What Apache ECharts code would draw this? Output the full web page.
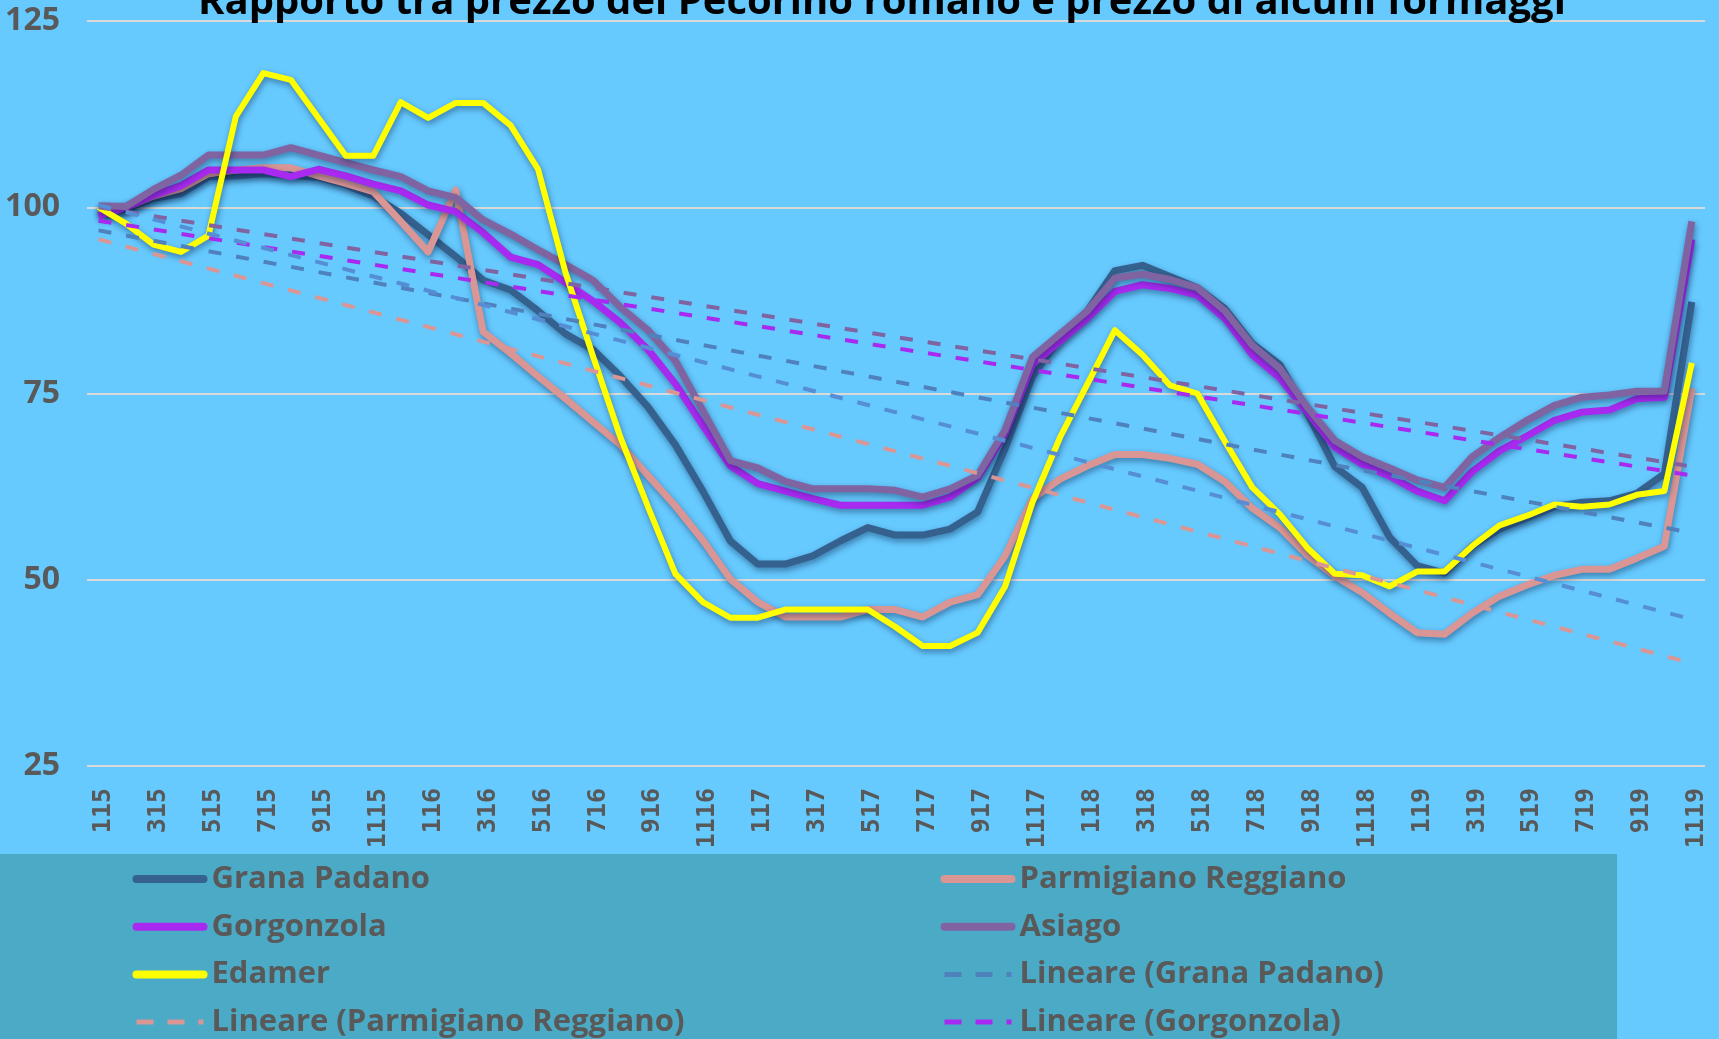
<!DOCTYPE html>
<html>
<head>
<meta charset="utf-8">
<title>Rapporto Pecorino romano / formaggi</title>
<script src="https://cdn.jsdelivr.net/npm/echarts@6/dist/echarts.min.js"></script>
<style>
  html, body { margin: 0; padding: 0; background: #66caff; }
  #chart { width: 1719px; height: 1039px; }
</style>
</head>
<body>
<div id="chart"></div>
<script>
// mesi (m + aa)
const months = ['115', '215', '315', '415', '515', '615', '715', '815', '915', '1015', '1115', '1215',
  '116', '216', '316', '416', '516', '616', '716', '816', '916', '1016', '1116', '1216',
  '117', '217', '317', '417', '517', '617', '717', '817', '917', '1017', '1117', '1217',
  '118', '218', '318', '418', '518', '618', '718', '818', '918', '1018', '1118', '1218',
  '119', '219', '319', '419', '519', '619', '719', '819', '919', '1019', '1119']

const grana = [99.5, 99.8, 101.2, 101.8, 104.1, 104.2, 104.5, 104.3, 104.0, 103.0, 101.5, 99.2,
  96.3, 93.4, 90.2, 88.9, 86.1, 83.0, 80.9, 77.3, 73.2, 68.1, 61.9, 55.2,
  52.1, 52.1, 53.2, 55.2, 57.0, 56.0, 56.0, 56.8, 59.1, 67.6, 77.3, 82.5,
  86.1, 91.5, 92.2, 90.7, 89.2, 86.4, 81.7, 78.9, 72.4, 65.2, 62.4, 55.7,
  51.9, 50.9, 54.5, 56.8, 58.3, 59.8, 60.4, 60.6, 61.6, 64.2, 87.3]

const parmigiano = [99.5, 100.0, 101.5, 102.5, 104.5, 105.0, 105.3, 105.3, 104.2, 103.2, 102.1, 98.1,
  94.0, 102.3, 83.3, 80.4, 77.3, 74.3, 71.2, 68.1, 64.0, 59.9, 55.3, 50.1,
  47.0, 45.0, 45.0, 45.0, 46.0, 46.0, 45.0, 47.0, 48.0, 53.2, 60.9, 63.5,
  65.3, 66.8, 66.8, 66.3, 65.5, 63.2, 59.6, 57.0, 53.3, 50.5, 48.3, 45.5,
  42.9, 42.7, 45.5, 47.8, 49.3, 50.6, 51.4, 51.4, 52.9, 54.5, 75.7]

const gorgonzola = [98.8, 100.0, 101.6, 102.9, 105.0, 105.0, 105.0, 104.1, 105.1, 104.2, 103.1, 102.2,
  100.3, 99.4, 96.6, 93.3, 92.3, 89.9, 87.4, 84.5, 80.9, 76.3, 70.7, 65.3,
  62.9, 61.9, 60.9, 60.0, 60.0, 60.0, 60.0, 61.1, 63.7, 69.6, 78.9, 82.0,
  85.1, 88.7, 89.6, 89.1, 88.2, 85.1, 80.2, 77.1, 72.5, 67.8, 65.5, 63.9,
  61.9, 60.6, 64.5, 67.3, 69.3, 71.4, 72.5, 72.8, 74.3, 74.5, 95.7]

const asiago = [100.2, 100.1, 102.4, 104.3, 107.0, 107.0, 107.0, 108.0, 107.0, 106.0, 105.0, 104.1,
  102.2, 101.3, 98.3, 96.4, 94.3, 92.3, 90.2, 86.6, 83.5, 79.4, 72.7, 66.0,
  65.0, 63.2, 62.2, 62.2, 62.2, 62.0, 61.1, 62.2, 64.0, 70.1, 79.9, 83.0,
  86.1, 90.5, 91.0, 90.3, 89.2, 86.1, 81.5, 78.4, 73.2, 68.7, 66.5, 65.0,
  63.4, 62.4, 66.5, 69.1, 71.4, 73.4, 74.5, 74.8, 75.3, 75.3, 98.1]

const edamer = [100.0, 97.8, 95.0, 94.0, 96.2, 112.2, 118.0, 117.1, 112.0, 106.9, 106.9, 114.1,
  112.0, 114.0, 114.0, 111.0, 105.1, 91.2, 80.0, 69.1, 59.8, 50.8, 47.0, 44.9,
  44.9, 46.0, 46.0, 46.0, 46.0, 43.7, 41.1, 41.1, 42.9, 49.1, 60.4, 69.1,
  76.3, 83.5, 80.2, 76.1, 75.0, 68.6, 62.4, 58.8, 54.3, 50.8, 50.6, 49.1,
  51.1, 51.1, 54.5, 57.3, 58.6, 60.1, 59.8, 60.1, 61.4, 61.9, 79.1]

// linee di tendenza: valore al primo e all'ultimo mese
const linGrana = [96.9, 56.3]
const linParmigiano = [95.7, 38.8]
const linGorgonzola = [98.2, 64.0]
const linAsiago = [100.0, 65.2]
const linEdamer = [100.3, 44.7]

const yTicks = [25, 50, 75, 100, 125]

const TXT = '#595959'
const FONT = "'Open Sans', 'Noto Sans', sans-serif"

function solid(name, data, color, width) {
  return {
    name: name,
    type: 'line',
    data: data.map((v, i) => [i, v]),
    symbol: 'none',
    z: 2,
    lineStyle: {
      color: color,
      width: width,
      join: 'round',
      shadowColor: 'rgba(0, 20, 60, 0.45)',
      shadowBlur: 6,
      shadowOffsetX: 1,
      shadowOffsetY: 3
    },
    itemStyle: { color: color }
  }
}

function trend(name, ends, color) {
  return {
    name: name,
    type: 'line',
    data: [[0, ends[0]], [months.length - 1, ends[1]]],
    symbol: 'none',
    z: 3,
    lineStyle: { color: color, width: 4, type: [13, 15] },
    itemStyle: { color: color }
  }
}

// niente pallino nella legenda, solo la linea
function legendItem(name, dashed) {
  return {
    name: name,
    itemStyle: { color: 'rgba(0,0,0,0)', borderColor: 'rgba(0,0,0,0)', borderWidth: 0 },
    lineStyle: dashed ? { width: 5, type: [17, 14], cap: 'butt' } : { width: 8, type: 'solid', cap: 'round' }
  }
}

let legendBase = {
  orient: 'vertical',
  top: 861,
  height: 260,
  padding: 0,
  itemWidth: 67,
  itemHeight: 14,
  itemGap: 11.7,
  selectedMode: false,
  textStyle: {
    color: TXT, fontFamily: FONT, fontWeight: 'bold', fontSize: 31, lineHeight: 36,
    padding: [0, 0, 0, 3]
  }
}

let option = {
  backgroundColor: '#66caff',
  animation: false,
  title: {
    text: 'Rapporto tra prezzo del Pecorino romano e prezzo di alcuni formaggi',
    left: 877,
    textAlign: 'center',
    top: -22,
    textStyle: { color: '#000', fontFamily: FONT, fontWeight: 'bold', fontSize: 40 }
  },
  graphic: [{
    type: 'rect',
    shape: { x: 0, y: 854, width: 1617, height: 185 },
    style: { fill: '#4babc6' },
    z: 0
  }],
  grid: { left: 87, right: 14, top: 21, bottom: 273 },
  xAxis: {
    type: 'value',
    min: -0.42,
    max: 58.48,
    splitLine: { show: false },
    axisLine: { show: false },
    axisTick: { show: false },
    axisLabel: {
      customValues: months.map((m, i) => i).filter(i => i % 2 == 0),
      formatter: v => months[v],
      rotate: 90,
      margin: 22,
      verticalAlign: 'top',
      lineHeight: 10,
      color: TXT,
      fontFamily: "'DejaVu Sans Mono', monospace",
      fontWeight: 'bold',
      fontSize: 25
    }
  },
  yAxis: {
    type: 'value',
    min: yTicks[0],
    max: yTicks[yTicks.length - 1],
    interval: 25,
    axisLine: { show: false },
    axisTick: { show: false },
    splitLine: { lineStyle: { color: '#d9d9d9', width: 2 } },
    axisLabel: { color: TXT, fontFamily: FONT, fontWeight: 'bold', fontSize: 32, margin: 27 }
  },
  legend: [
    Object.assign({}, legendBase, {
      left: 132.5,
      data: [legendItem('Grana Padano'), legendItem('Gorgonzola'), legendItem('Edamer'),
        legendItem('Lineare (Parmigiano Reggiano)', true), legendItem('Lineare (Asiago)', true)]
    }),
    Object.assign({}, legendBase, {
      left: 940.5,
      data: [legendItem('Parmigiano Reggiano'), legendItem('Asiago'), legendItem('Lineare (Grana Padano)', true),
        legendItem('Lineare (Gorgonzola)', true), legendItem('Lineare (Edamer)', true)]
    })
  ],
  series: [
    solid('Grana Padano', grana, '#35618f', 7),
    solid('Parmigiano Reggiano', parmigiano, '#da9694', 7),
    solid('Gorgonzola', gorgonzola, '#a82af0', 7),
    solid('Asiago', asiago, '#8064a2', 7),
    solid('Edamer', edamer, '#ffff00', 6),
    trend('Lineare (Grana Padano)', linGrana, '#4f81bd'),
    trend('Lineare (Parmigiano Reggiano)', linParmigiano, '#da9694'),
    trend('Lineare (Gorgonzola)', linGorgonzola, '#a82af0'),
    trend('Lineare (Asiago)', linAsiago, '#8064a2'),
    trend('Lineare (Edamer)', linEdamer, '#558ed5')
  ]
}

let myChart = echarts.init(document.getElementById('chart'))
myChart.setOption(option)
window.addEventListener('resize', function () {
  myChart.resize()
})
</script>
</body>
</html>
